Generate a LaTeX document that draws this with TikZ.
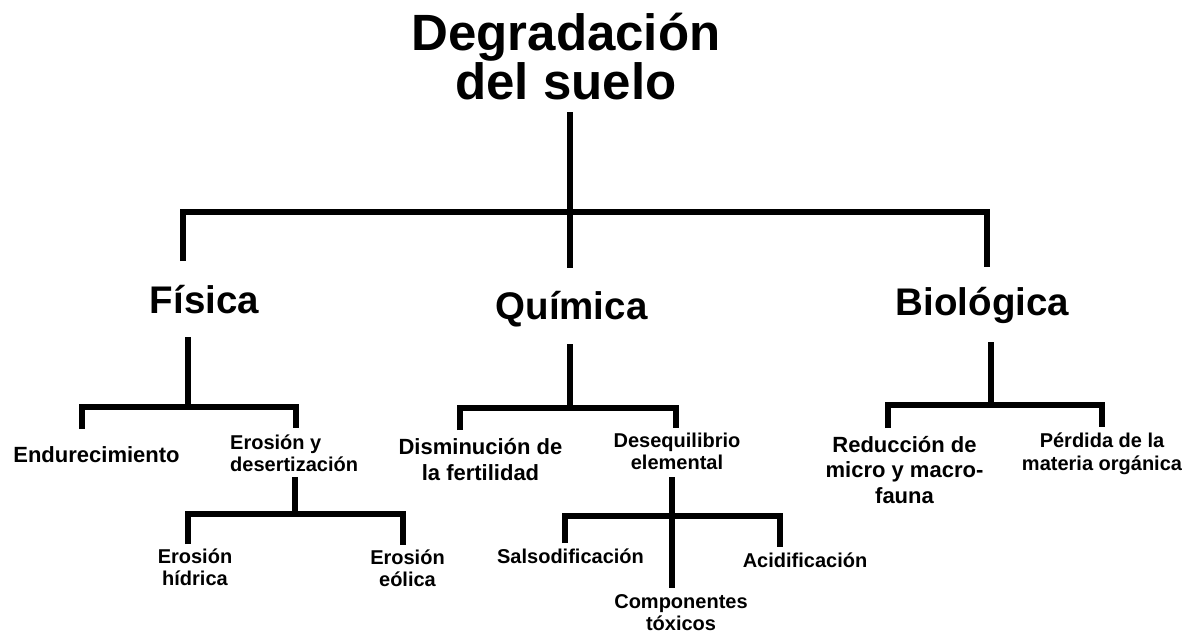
\documentclass[tikz,border=0pt]{standalone}
\usepackage{fontspec}
\setmainfont{Liberation Sans}
\lineskiplimit=-100pt

\begin{document}
\begin{tikzpicture}[x=1pt,y=-1pt,
        rama/.style={line width=6pt,line join=miter},
        txt/.style={inner sep=0pt,anchor=base,align=center},
        grande/.style={txt,font=\bfseries\fontsize{51}{49}\selectfont},
        medio/.style={txt,font=\bfseries\fontsize{38.5}{40}\selectfont},
        hoja/.style={txt,font=\bfseries\fontsize{22}{25.5}\selectfont},
        chica/.style={txt,font=\bfseries\fontsize{20}{22}\selectfont}]
        \fill[white] (0,0) rectangle (1201,635);
        \useasboundingbox (0,0) rectangle (1201,635);
        \node[grande] (titulo) at (566,99) {Degradación\\del suelo};
        \node[medio] (fisica) at (204.5,313) {Física};
        \node[medio] (quimica) at (571.5,319) {Química};
        \node[medio] (biologica) at (982.5,315) {Biológica};
        \node[hoja] (endurec) at (96.5,462) {Endurecimiento};
        \node[chica,anchor=base west,align=left] (erosion) at (230,471) {Erosión y\\desertización};
        \node[chica] (hidrica) at (195,585) {Erosión\\hídrica};
        \node[chica] (eolica) at (407.5,586) {Erosión\\eólica};
        \node[hoja] (fertil) at (480.5,480) {Disminución de\\la fertilidad};
        \node[chica] (deseq) at (677,469) {Desequilibrio\\elemental};
        \node[chica] (salso) at (570.5,563) {Salsodificación};
        \node[chica] (toxicos) at (681,630) {Componentes\\tóxicos};
        \node[chica] (acidif) at (805,567) {Acidificación};
        \node[hoja] (fauna) at (904.5,503) {Reducción de\\micro y macro-\\fauna};
        \node[chica,font=\bfseries\fontsize{20}{23}\selectfont] (organica) at (1102,470) {Pérdida de la\\materia orgánica};
        \coordinate (t0) at (570,112);
        \coordinate (t1) at (570,268);
        \coordinate (j0) at (570,212);
        \coordinate (tf) at (183,261);
        \coordinate (tb) at (987,267);
        \draw[rama] (t0) -- (t1);
        \draw[rama] (tf) |- (j0) -| (tb);
        \coordinate (f0) at (188,337);
        \coordinate (j1) at (188,407);
        \coordinate (fe) at (82,429);
        \coordinate (fd) at (296,428);
        \draw[rama] (f0) -- (j1);
        \draw[rama] (fe) |- (j1) -| (fd);
        \coordinate (e0) at (295,477);
        \coordinate (j2) at (295,514);
        \coordinate (eh) at (188,544);
        \coordinate (ee) at (403,545);
        \draw[rama] (e0) -- (j2);
        \draw[rama] (eh) |- (j2) -| (ee);
        \coordinate (q0) at (570,344);
        \coordinate (j3) at (570,408);
        \coordinate (qf) at (460,430);
        \coordinate (qd) at (676,428);
        \draw[rama] (q0) -- (j3);
        \draw[rama] (qf) |- (j3) -| (qd);
        \coordinate (d0) at (672,477);
        \coordinate (j4) at (672,516);
        \coordinate (dt) at (672,588);
        \coordinate (ds) at (565,543);
        \coordinate (da) at (780,547);
        \draw[rama] (d0) -- (dt);
        \draw[rama] (ds) |- (j4) -| (da);
        \coordinate (b0) at (991,342);
        \coordinate (j5) at (991,405);
        \coordinate (br) at (888,428);
        \coordinate (bp) at (1102,427);
        \draw[rama] (b0) -- (j5);
        \draw[rama] (br) |- (j5) -| (bp);
\end{tikzpicture}
\end{document}
